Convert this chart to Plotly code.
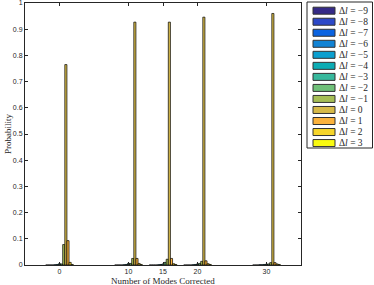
import plotly.graph_objects as go

modes = [0, 10, 15, 20, 30]
delta_l = [-9, -8, -7, -6, -5, -4, -3, -2, -1, 0, 1, 2, 3]
y_ticks = [0, 0.1, 0.2, 0.3, 0.4, 0.5, 0.6, 0.7, 0.8, 0.9, 1]
y_ticklabels = ["0", "0.1", "0.2", "0.3", "0.4", "0.5", "0.6", "0.7", "0.8", "0.9", "1"]
colors = ["#352a87", "#2d49c8", "#0a63e1", "#1283d4", "#0b9fcf", "#0cacb4",
          "#37b89c", "#6fc079", "#a6be55", "#d7ba48", "#fbb23c", "#f6d52b", "#f9fa10"]

p_m9 = [0.0, 0.0, 0.0, 0.0, 0.0]
p_m8 = [0.0, 0.0, 0.0, 0.0, 0.0]
p_m7 = [0.0, 0.0, 0.0, 0.0, 0.0]
p_m6 = [0.0, 0.0, 0.0, 0.0, 0.001]
p_m5 = [0.001, 0.001, 0.001, 0.001, 0.001]
p_m4 = [0.002, 0.002, 0.002, 0.002, 0.002]
p_m3 = [0.005, 0.006, 0.004, 0.004, 0.003]
p_m2 = [0.004, 0.006, 0.010, 0.006, 0.004]
p_m1 = [0.078, 0.025, 0.022, 0.014, 0.009]
p_0 = [0.765, 0.927, 0.927, 0.946, 0.960]
p_1 = [0.093, 0.025, 0.025, 0.016, 0.009]
p_2 = [0.010, 0.006, 0.005, 0.005, 0.004]
p_3 = [0.002, 0.002, 0.002, 0.002, 0.002]
series = [p_m9, p_m8, p_m7, p_m6, p_m5, p_m4, p_m3, p_m2, p_m1, p_0, p_1, p_2, p_3]

W, H = 374, 285
ML, MR, MT, MB = 25, 73, 3, 20
axc = "#262626"

fig = go.Figure()
for dl, vals, c in zip(delta_l, series, colors):
    fig.add_trace(go.Bar(x=modes, y=vals, name=f"Δl = {dl}",
                         marker=dict(color=c, line=dict(color="black", width=0.7)),
                         showlegend=False))

fig.update_layout(
    width=W, height=H, margin=dict(l=ML, r=MR, t=MT, b=MB, autoexpand=False),
    paper_bgcolor="white", plot_bgcolor="white",
    barmode="group", bargap=0.2, bargroupgap=0,
    font=dict(family="Liberation Sans", size=7, color=axc),
)
fig.update_xaxes(range=[-5, 35], tickvals=modes, ticktext=[str(m) for m in modes], automargin=False,
                 showline=True, linecolor=axc, linewidth=1, mirror="ticks", ticks="inside", ticklen=3,
                 tickcolor=axc, showgrid=False, zeroline=False, ticklabeloverflow="allow")
fig.update_yaxes(range=[0, 1], tickmode="array", tickvals=y_ticks, ticktext=y_ticklabels, automargin=False,
                 showline=True, linecolor=axc, linewidth=1, mirror="ticks", ticks="inside", ticklen=3,
                 tickcolor=axc, showgrid=False, zeroline=False, ticklabeloverflow="allow")

pw = W - ML - MR
ph = H - MT - MB
def px_x(x):
    return (x - ML) / pw
def px_y(y):
    return (H - MB - y) / ph

# axis titles
fig.add_annotation(xref="paper", yref="paper", x=0.5, y=px_y(280.5), text="Number of Modes Corrected",
                   showarrow=False, xanchor="center", yanchor="middle",
                   font=dict(family="Liberation Serif", size=9, color=axc))
fig.add_annotation(xref="paper", yref="paper", x=px_x(8), y=0.5, text="Probability", textangle=-90,
                   showarrow=False, xanchor="center", yanchor="middle",
                   font=dict(family="Liberation Serif", size=9, color=axc))

# legend box built from shapes and annotations
lx0, lx1, ly0, ly1 = 307, 372.5, 2, 148
fig.add_shape(type="rect", xref="paper", yref="paper", x0=px_x(lx0), x1=px_x(lx1), y0=px_y(ly1), y1=px_y(ly0),
              line=dict(color=axc, width=1), fillcolor="white", layer="above")
for i, (dl, c) in enumerate(zip(delta_l, colors)):
    cy = 10.7 + i * 11.03
    fig.add_shape(type="rect", xref="paper", yref="paper", x0=px_x(313), x1=px_x(335),
                  y0=px_y(cy + 3.5), y1=px_y(cy - 3.5), line=dict(color="#333333", width=1),
                  fillcolor=c, layer="above")
    lab = f"Δ<i>l</i> = {dl}".replace("-", "−")
    fig.add_annotation(xref="paper", yref="paper", x=px_x(336.5), y=px_y(cy), text=lab, showarrow=False,
                       xanchor="left", yanchor="middle",
                       font=dict(family="Liberation Serif", size=9.5, color=axc))

fig.write_html("out.html", config={"displayModeBar": False})
with open("out.html", "r", encoding="utf-8") as f:
    html = f.read()
html = html.replace("<head>", "<head><style>html,body{margin:0;padding:0;overflow:hidden;}</style>", 1)
with open("out.html", "w", encoding="utf-8") as f:
    f.write(html)
